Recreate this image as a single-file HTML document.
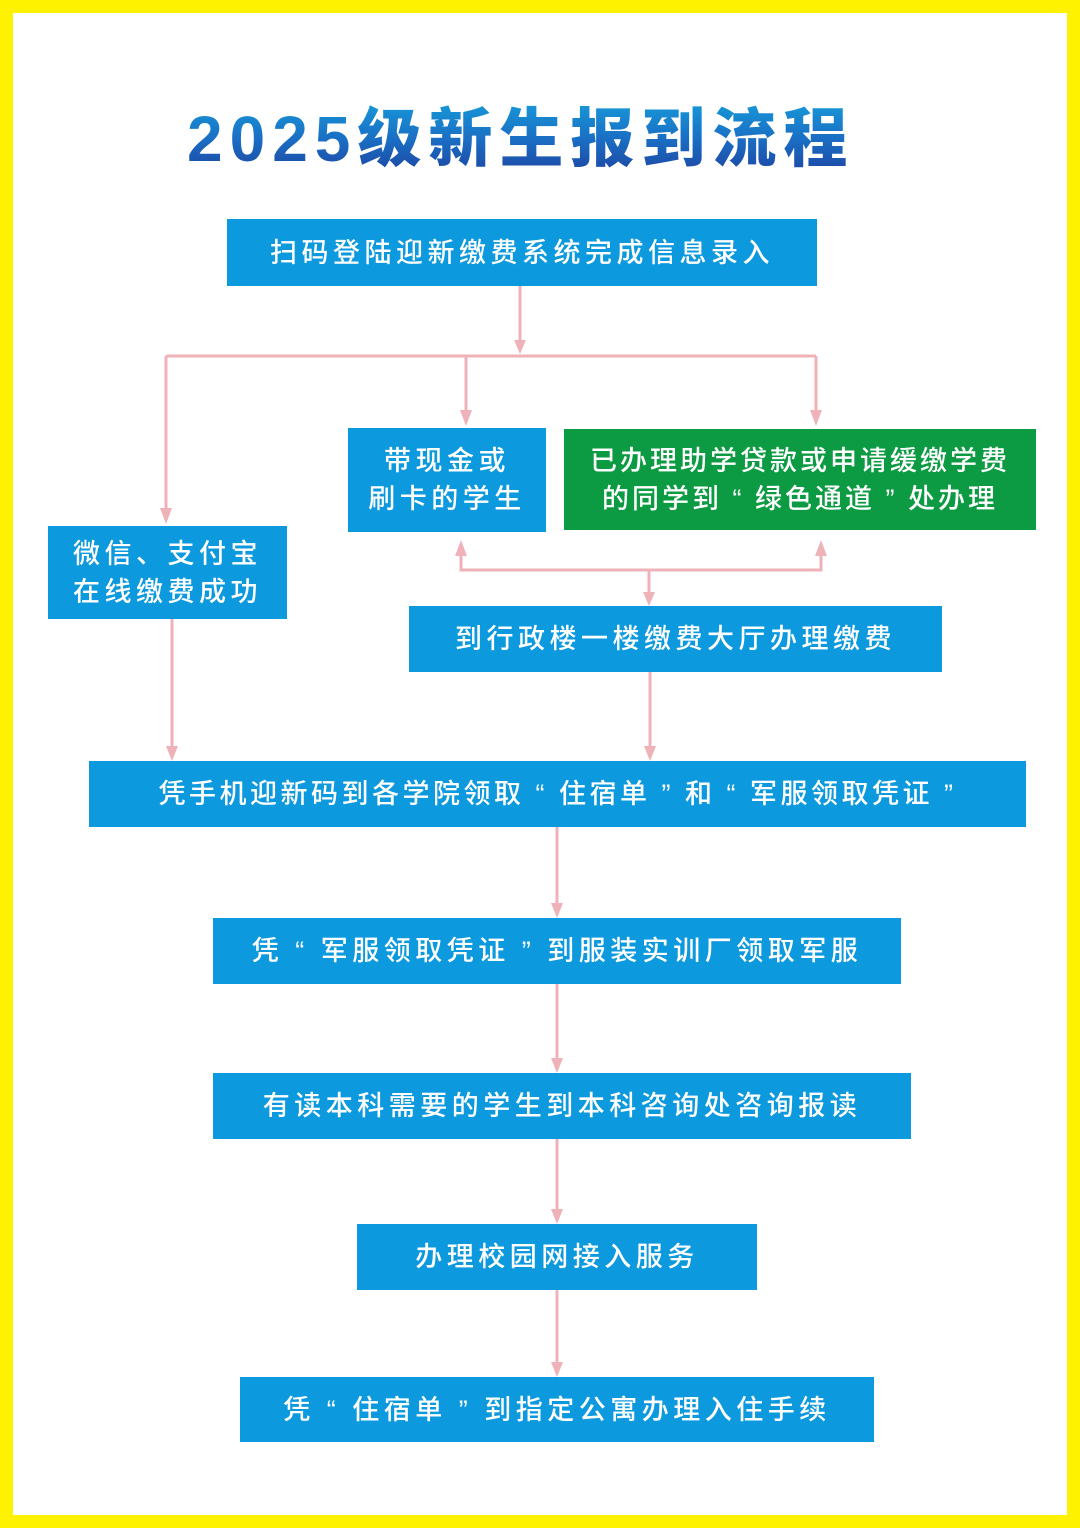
<!DOCTYPE html>
<html><head><meta charset="utf-8"><style>
*{margin:0;padding:0;box-sizing:border-box}
body{width:1080px;height:1528px;background:#fff200;position:relative;overflow:hidden;font-family:"Liberation Sans","Noto Sans CJK SC",sans-serif}
.in{position:absolute;left:13px;top:13px;width:1054px;height:1502px;background:#fff}
.b{position:absolute;background:#0c99de;color:#fff;font-size:27px;font-weight:500;letter-spacing:4.5px;display:flex;align-items:center;justify-content:center;text-align:center;line-height:38px;white-space:nowrap}
.g{background:#0c9a42}
.t{position:absolute;left:187px;top:88px;width:700px;font-size:64px;font-weight:900;letter-spacing:7px;white-space:nowrap;background:linear-gradient(#16a8e0,#1a6fc4 55%,#1e3f9e);-webkit-background-clip:text;background-clip:text;color:transparent}
svg{position:absolute;left:0;top:0}
</style></head><body>
<div class="in"></div>
<div class="t">2025级新生报到流程</div>
<svg width="1080" height="1528" fill="none" stroke="#efb2b8" stroke-width="3">
<path d="M520 286V345M166 356H816M166 356V512M466 356V415M816 356V415M461 552V570H821V552M649 570V596M172 619V750M650 672V750M557 827V907M557 984V1062M557 1139V1213M557 1290V1366"/>
<g fill="#efb2b8" stroke="none">
<path d="M514 340h12l-6 14z"/><path d="M160 508h12l-6 16z"/><path d="M460 410h12l-6 16z"/><path d="M810 410h12l-6 16z"/>
<path d="M455 556h12l-6-16z"/><path d="M815 556h12l-6-16z"/><path d="M643 592h12l-6 14z"/>
<path d="M166 746h12l-6 15z"/><path d="M644 746h12l-6 15z"/><path d="M551 903h12l-6 15z"/><path d="M551 1058h12l-6 15z"/><path d="M551 1209h12l-6 15z"/><path d="M551 1362h12l-6 15z"/>
</g></svg>
<div class="b" style="left:227px;top:219px;width:590px;height:67px">扫码登陆迎新缴费系统完成信息录入</div>
<div class="b" style="left:348px;top:428px;width:198px;height:104px">带现金或<br>刷卡的学生</div>
<div class="b g" style="left:564px;top:429px;width:472px;height:101px;letter-spacing:3px">已办理助学贷款或申请缓缴学费<br>的同学到 “ 绿色通道 ” 处办理</div>
<div class="b" style="left:48px;top:526px;width:239px;height:93px">微信、支付宝<br>在线缴费成功</div>
<div class="b" style="left:409px;top:606px;width:533px;height:66px">到行政楼一楼缴费大厅办理缴费</div>
<div class="b" style="left:89px;top:761px;width:937px;height:66px;letter-spacing:3.5px">凭手机迎新码到各学院领取 “ 住宿单 ” 和 “ 军服领取凭证 ”</div>
<div class="b" style="left:213px;top:918px;width:688px;height:66px">凭 “ 军服领取凭证 ” 到服装实训厂领取军服</div>
<div class="b" style="left:213px;top:1073px;width:698px;height:66px">有读本科需要的学生到本科咨询处咨询报读</div>
<div class="b" style="left:357px;top:1224px;width:400px;height:66px">办理校园网接入服务</div>
<div class="b" style="left:240px;top:1377px;width:634px;height:65px">凭 “ 住宿单 ” 到指定公寓办理入住手续</div>
</body></html>
